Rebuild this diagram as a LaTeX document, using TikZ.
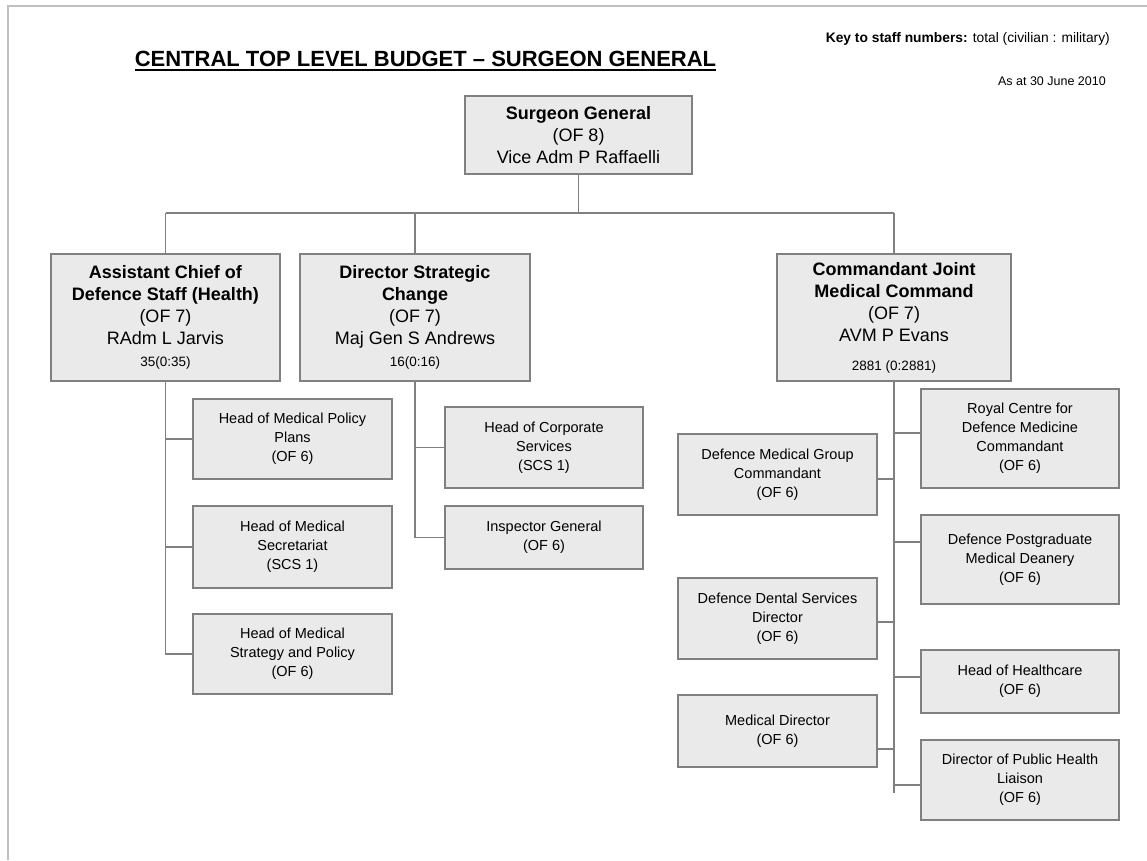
\documentclass[tikz,border=0pt]{standalone}
\usepackage{fontspec}
\setmainfont{Liberation Sans}
\definecolor{boxfill}{RGB}{234,234,234}
\definecolor{boxline}{RGB}{128,128,128}
\definecolor{frameline}{RGB}{192,192,192}
\begin{document}
\begin{tikzpicture}[x=1pt,y=-1pt,
  box/.style={draw=boxline, line width=1.5pt, fill=boxfill, align=center,
    inner sep=0pt, text=black},
  bigbox/.style={box, font={\fontsize{18}{22}\selectfont}},
  smallbox/.style={box, minimum width=199, font={\fontsize{14.5}{19}\selectfont}},
  link/.style={draw=boxline, line width=1.5pt},
  frame/.style={draw=frameline, line width=2pt}]
\useasboundingbox (0,0) rectangle (1147,860);

% page edge
\draw[frame] (8,860) -- (8,6) -- (1147,6);

% heading and key
\node[inner sep=0pt, font={\fontsize{22}{26}\selectfont\bfseries}] (title) at (425.5,59)
  {CENTRAL TOP LEVEL BUDGET – SURGEON GENERAL};
\draw[line width=1.8pt] ([yshift=-3.5pt]title.base west) -- ([yshift=-3.5pt]title.base east);
\node[anchor=east, inner sep=0pt, font={\fontsize{13.8}{16}\selectfont}] (key) at (1110,39)
  {\textbf{Key to staff numbers:} total (civilian : military)};
\node[anchor=east, inner sep=0pt, font={\fontsize{12.5}{15}\selectfont}] (date) at (1106,81)
  {As at 30 June 2010};

% top of the command
\node[bigbox, minimum width=227, minimum height=78] (sg) at (578.5,135)
  {\textbf{Surgeon General}\\(OF 8)\\Vice Adm P Raffaelli};

% second tier
\node[bigbox, minimum width=229, minimum height=127] (acds) at (165.5,317.5)
  {\textbf{Assistant Chief of}\\\textbf{Defence Staff (Health)}\\(OF 7)\\RAdm L Jarvis\\{\fontsize{13.5}{15}\selectfont 35(0:35)}};
\node[bigbox, minimum width=230, minimum height=127] (dsc) at (415,317.5)
  {\textbf{Director Strategic}\\\textbf{Change}\\(OF 7)\\Maj Gen S Andrews\\{\fontsize{13.5}{15}\selectfont 16(0:16)}};
\node[bigbox, minimum width=234, minimum height=127] (cj) at (894,317.5)
  {\textbf{Commandant Joint}\\\textbf{Medical Command}\\(OF 7)\\AVM P Evans\\[7pt]{\fontsize{13.5}{15}\selectfont 2881 (0:2881)}};

% reports to ACDS (Health)
\node[smallbox, minimum height=80] (h1) at (292.5,439)
  {Head of Medical Policy\\Plans\\(OF 6)};
\node[smallbox, minimum height=82] (h2) at (292.5,547)
  {Head of Medical\\Secretariat\\(SCS 1)};
\node[smallbox, minimum height=80] (h3) at (292.5,654)
  {Head of Medical\\Strategy and Policy\\(OF 6)};

% reports to Director Strategic Change
\node[smallbox, minimum width=198, minimum height=81] (c1) at (544,447.5)
  {Head of Corporate\\Services\\(SCS 1)};
\node[smallbox, minimum width=198, minimum height=63] (c2) at (544,537.5)
  {Inspector General\\(OF 6)};

% reports to Commandant JMC, right column
\node[smallbox, minimum width=198, minimum height=99] (r1) at (1020,438.5)
  {Royal Centre for\\Defence Medicine\\Commandant\\(OF 6)};
\node[smallbox, minimum width=198, minimum height=89] (r2) at (1020,559.5)
  {Defence Postgraduate\\Medical Deanery\\(OF 6)};
\node[smallbox, minimum width=198, minimum height=63] (r3) at (1020,681.5)
  {Head of Healthcare\\(OF 6)};
\node[smallbox, minimum width=198, minimum height=80] (r4) at (1020,780)
  {Director of Public Health\\Liaison\\(OF 6)};

% reports to Commandant JMC, left column
\node[smallbox, minimum height=81] (l1) at (777.5,474.5)
  {Defence Medical Group\\Commandant\\(OF 6)};
\node[smallbox, minimum height=81] (l2) at (777.5,618.5)
  {Defence Dental Services\\Director\\(OF 6)};
\node[smallbox, minimum height=72] (l3) at (777.5,731)
  {Medical Director\\(OF 6)};

% top bus
\coordinate (busL) at (165.5,213);
\coordinate (busR) at (894,213);
\draw[link] (busL) -- (busR);
\draw[link] (sg.south) -- (sg.south |- busL);
\draw[link] (busL) -- (acds.north);
\draw[link] (dsc.north |- busL) -- (dsc.north);
\draw[link] (busR) -- (cj.north);

% ACDS (Health) branch
\draw[link] (acds.south) |- (h1.west);
\draw[link] (acds.south) |- (h2.west);
\draw[link] (acds.south) |- (h3.west);

% DSC branch
\draw[link] (dsc.south) |- (c1.west);
\draw[link] (dsc.south) |- (c2.west);

% CJMC branch
\coordinate (cjend) at (894,793);
\draw[link] (cj.south) -- (cjend);
\coordinate (jr1) at (894,433);
\coordinate (jr2) at (894,542);
\coordinate (jr3) at (894,677);
\coordinate (jr4) at (894,785);
\coordinate (jl1) at (894,479);
\coordinate (jl2) at (894,622);
\coordinate (jl3) at (894,749);
\draw[link] (jr1) -- (jr1 -| r1.west);
\draw[link] (jr2) -- (jr2 -| r2.west);
\draw[link] (jr3) -- (jr3 -| r3.west);
\draw[link] (jr4) -- (jr4 -| r4.west);
\draw[link] (jl1) -- (jl1 -| l1.east);
\draw[link] (jl2) -- (jl2 -| l2.east);
\draw[link] (jl3) -- (jl3 -| l3.east);
\end{tikzpicture}
\end{document}
